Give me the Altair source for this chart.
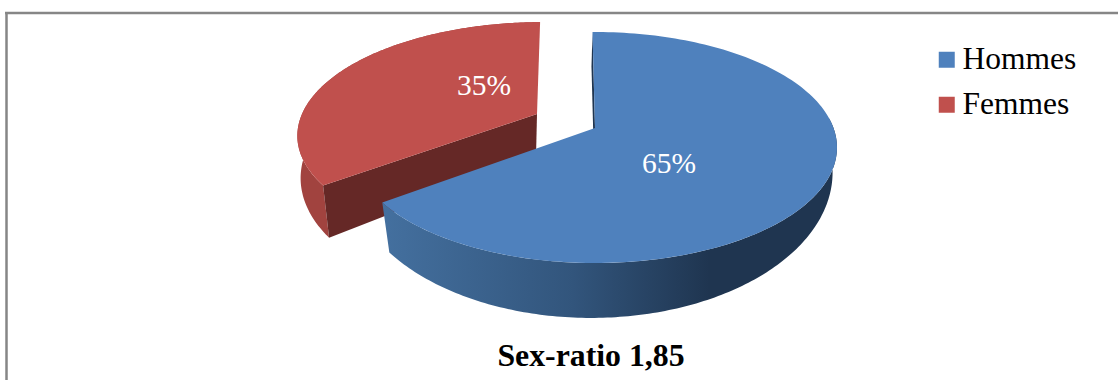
import numpy as np
import altair as alt

# Chart values
categories = ["Hommes", "Femmes"]
shares = [65, 35]
colors = ["#4F81BD", "#C0504D"]
chart_title = "Sex-ratio 1,85"

# First slice starts just left of twelve o'clock; the sweep follows the shares
START_DEG = -0.7
sweep = [s * 3.6 for s in shares]
hommes_span = (START_DEG, START_DEG + sweep[0])
femmes_span = (hommes_span[1], hommes_span[1] + sweep[1])


def plane(cx, cy, a, b, k, shear=0.0):
    """Perspective projection of a disc of radius 1 lying in a horizontal plane."""
    def project(deg):
        t = np.radians(np.asarray(deg, dtype=float))
        u, v = np.sin(t), np.cos(t)
        w = 1 + k * v
        return np.column_stack([cx + (a * u + shear * v) / w, cy - b * v / w])
    return project


def arc(span, n=160):
    return np.linspace(span[0], span[1], n)


def feature(points, **properties):
    ring = [[float(x), float(y)] for x, y in points]
    ring.append(ring[0])
    return {"type": "Feature", "geometry": {"type": "Polygon", "coordinates": [ring]},
            "properties": properties}


def sector(project, span, apex, **properties):
    return feature(np.vstack([[apex], project(arc(span))]), **properties)


def wall(top, bottom, span):
    return feature(np.vstack([top(arc(span)), bottom(arc(span))[::-1]]))


def radial_wall(top, bottom, deg, apex_top, apex_bottom):
    return feature(np.vstack([[apex_top], top([deg]), bottom([deg]), [apex_bottom]]))


# Upper and lower faces of each slice
h_apex, h_apex_low = (595, 128), (591, 162)
h_top = plane(*h_apex, 238.5, 112.2, 0.169)
h_low = plane(*h_apex_low, 241.0, 145.0, 0.07)
# The cut face behind the blue slice only shows as a thin sliver
h_back_apex = (594, 162)
h_back = plane(*h_back_apex, 241.0, 112.0, 0.169)

f_apex, f_apex_low = (537, 114), (536, 157)
f_top = plane(*f_apex, 235.0, 107.5, 0.169, shear=6.5)
f_low = plane(*f_apex_low, 232.0, 121.5, 0.169)


def shape(features, **mark):
    return alt.Chart(alt.Data(values=features)).mark_geoshape(
        strokeWidth=0, **mark
    ).project(type="identity", scale=1, translate=[0, 0])


blue_side = alt.Gradient(
    gradient="linear", x1=0, x2=1, y1=0, y2=0,
    stops=[
        alt.GradientStop(offset=0.0, color="#44709F"),
        alt.GradientStop(offset=0.42, color="#32557C"),
        alt.GradientStop(offset=0.72, color="#1F3550"),
        alt.GradientStop(offset=1.0, color="#1F3550"),
    ],
)

# Pie layers, painted back to front
femmes_outer = shape([wall(f_top, f_low, femmes_span)], fill="#A1433F")
femmes_inner = shape(
    [radial_wall(f_top, f_low, femmes_span[0], f_apex, f_apex_low)], fill="#652826"
)
hommes_inner = shape(
    [radial_wall(h_top, h_back, hommes_span[0], h_apex, h_back_apex)], fill="#1F3550"
)
hommes_outer = shape([wall(h_top, h_low, (85, hommes_span[1]))], fill=blue_side)

top_faces = shape([
    sector(f_top, femmes_span, f_apex, name=categories[1]),
    sector(h_top, hommes_span, h_apex, name=categories[0]),
]).encode(
    color=alt.Color(
        "properties.name:N",
        scale=alt.Scale(domain=categories, range=colors),
        legend=alt.Legend(
            title=None, orient="none", legendX=931, legendY=44, symbolType="square",
            symbolSize=256, symbolStrokeWidth=0, labelFont="Liberation Serif",
            labelFontSize=31.5, labelColor="#000000", labelLimit=200, rowPadding=12,
            labelOffset=0, padding=0,
        ),
    )
)


def label(text, x, y, size, fill, weight="normal"):
    return alt.Chart(alt.Data(values=[{"t": text}])).mark_text(
        font="Liberation Serif", fontSize=size, fontWeight=weight, color=fill,
        align="center", baseline="alphabetic",
    ).encode(text="t:N", x=alt.value(x), y=alt.value(y))


frame_top = alt.Chart(alt.Data(values=[{"f": 1}])).mark_rule(color="#868686", strokeWidth=2.5).encode(
    x=alt.value(5), x2=alt.value(1118), y=alt.value(13)
)
frame_left = alt.Chart(alt.Data(values=[{"f": 1}])).mark_rule(color="#868686", strokeWidth=2.5).encode(
    x=alt.value(6.5), y=alt.value(13), y2=alt.value(380)
)

chart = alt.layer(
    frame_top, frame_left,
    femmes_outer, femmes_inner, hommes_inner, hommes_outer, top_faces,
    label(f"{shares[0]}%", 669, 173, 29.5, "#FFFFFF"),
    label(f"{shares[1]}%", 484, 95, 29.5, "#FFFFFF"),
    label(chart_title, 591, 366, 31.8, "#000000", "bold"),
).properties(
    width=1118, height=380, padding=0,
    autosize=alt.AutoSizeParams(type="none"),
    background="#FFFFFF",
).configure_view(stroke=None)

chart.save("out.html", embed_options={"renderer": "svg", "actions": False})
